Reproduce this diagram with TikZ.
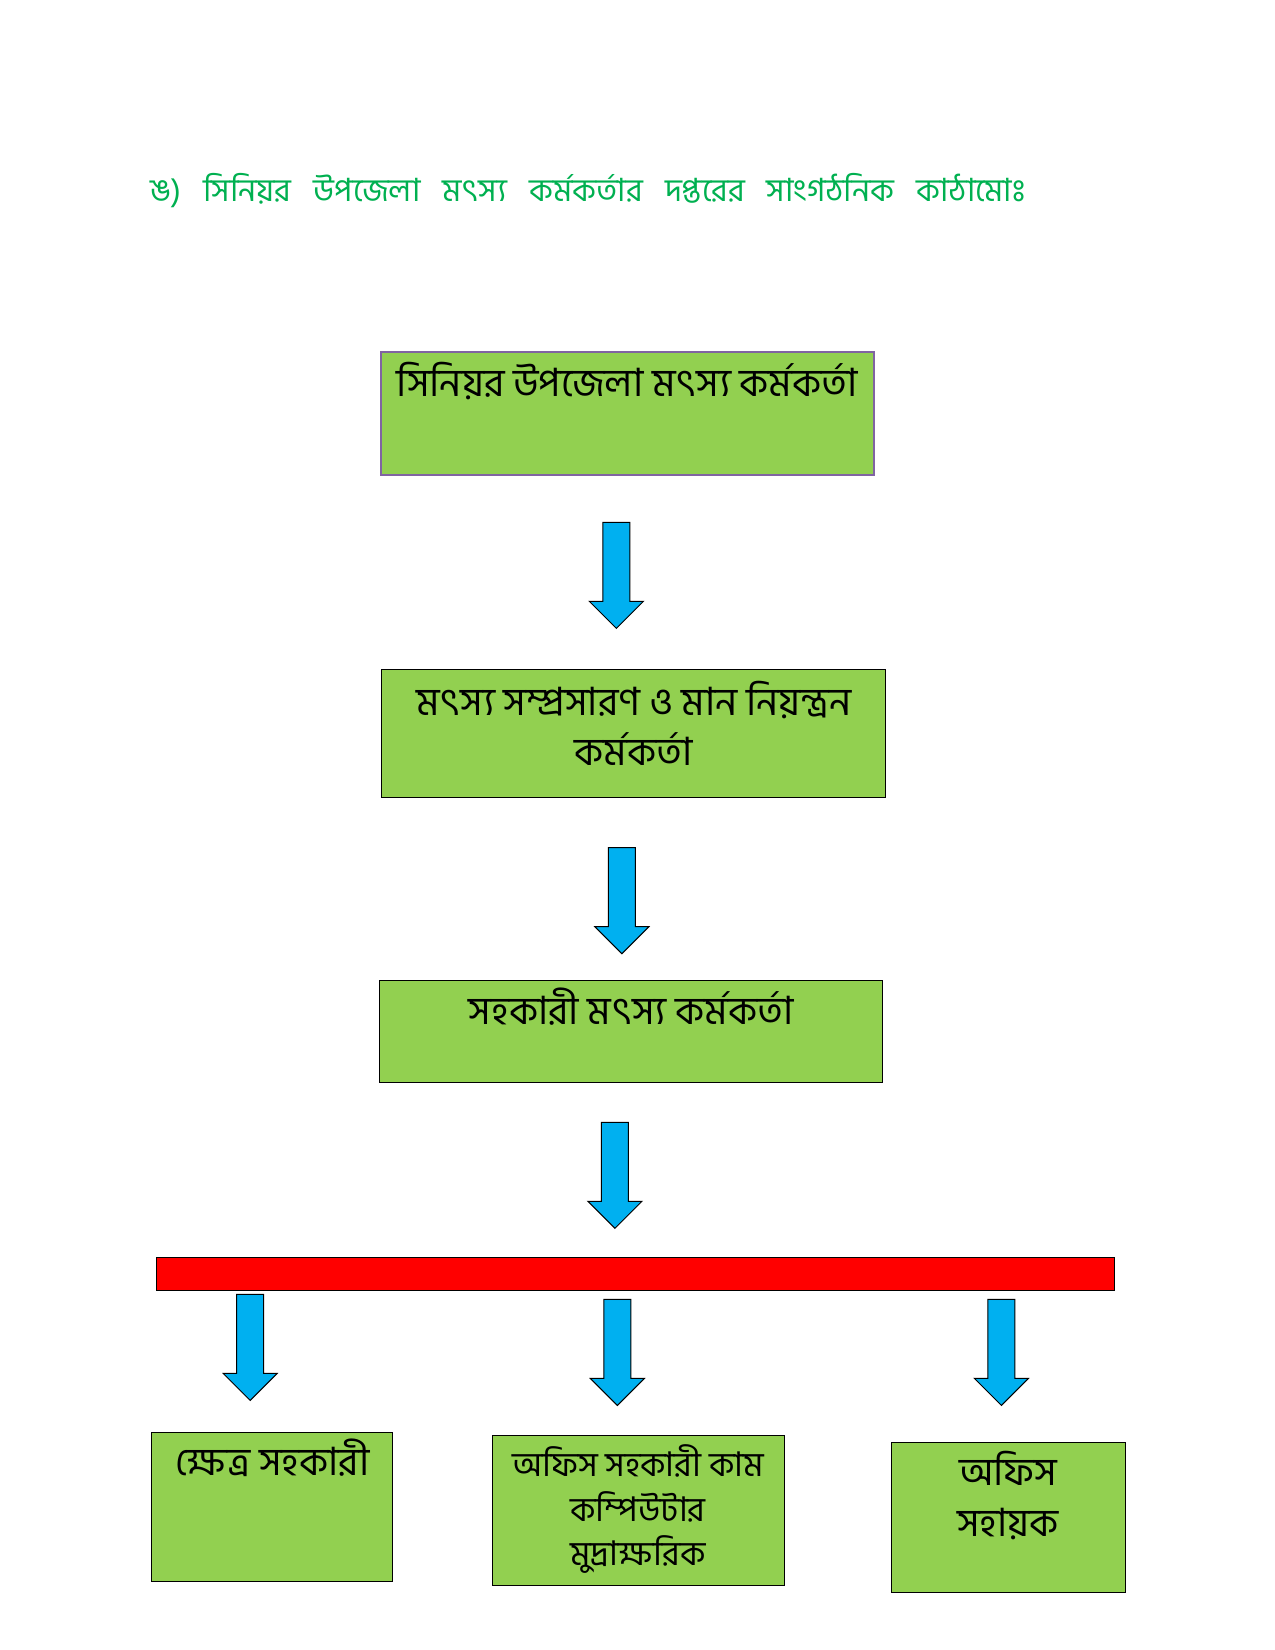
\documentclass[tikz,border=0pt]{standalone}
\usepackage{fontspec}
\newfontfamily\bangla[Script=Bengali]{Hind Siliguri}
\usetikzlibrary{calc,positioning}
\definecolor{color_box_fill}{HTML}{92D050}
\definecolor{color_arrow_fill}{HTML}{00B0F0}
\definecolor{color_bar_fill}{HTML}{FF0000}
\definecolor{color_title}{HTML}{00B050}
\definecolor{color_top_border}{HTML}{8064A2}

\tikzset{
	box/.style={draw=black, line width=1.2, fill=color_box_fill, anchor=north west, inner sep=0},
	boxtext/.style={font=\bangla\fontsize{39}{46}\selectfont, anchor=base, inner sep=0},
	smalltext/.style={boxtext, font=\bangla\fontsize{34}{40}\selectfont},
	arrowblock/.style={draw=black, line width=1, fill=color_arrow_fill, line join=miter},
	downarrow/.pic={
		\draw[arrowblock] (-13.5,0) -- (13.5,0) -- (13.5,79) -- (27,79) -- (0,106) -- (-27,79) -- (-13.5,79) -- cycle;
	}
}

\begin{document}
\begin{tikzpicture}[scale=1,black,x=1pt,y=-1pt]
				\useasboundingbox (0, 0) rectangle (1275, 1650);
				\begin{scope}[scale=0.995]
				% Heading
				\node[font=\bangla\fontsize{32}{38}\selectfont, text=color_title, anchor=base west, inner sep=0] (title) at (151, 203)
					{\makebox[875pt][s]{ঙ) সিনিয়র উপজেলা মৎস্য কর্মকর্তার দপ্তরের সাংগঠনিক কাঠামোঃ}};
		
				% Boxes
				\node[box, draw=color_top_border, line width=1.6, minimum width=493, minimum height=123] (b1) at (382, 353) {};
				\node[box, minimum width=504, minimum height=128] (b2) at (383, 672) {};
				\node[box, minimum width=503, minimum height=102] (b3) at (381, 985) {};
				\node[box, minimum width=241, minimum height=149] (b4) at (152, 1439) {};
				\node[box, minimum width=292, minimum height=150] (b5) at (494, 1442) {};
				\node[box, minimum width=234, minimum height=150] (b6) at (895, 1449) {};
				
				% Box texts
				\node[boxtext] (t1) at ($(b1.north)+(0,46)$) {সিনিয়র উপজেলা মৎস্য কর্মকর্তা};
				\node[boxtext] (t2a) at ($(b2.north)+(0,47)$) {মৎস্য সম্প্রসারণ ও মান নিয়ন্ত্রন};
				\node[boxtext] (t2b) at ($(b2.north)+(0,97)$) {কর্মকর্তা};
				\node[boxtext] (t3) at ($(b3.north)+(0,45)$) {সহকারী মৎস্য কর্মকর্তা};
				\node[boxtext] (t4) at ($(b4.north)+(0,44)$) {ক্ষেত্র সহকারী};
				\node[smalltext] (t5a) at ($(b5.north)+(0,42)$) {অফিস সহকারী কাম};
				\node[smalltext] (t5b) at ($(b5.north)+(0,87)$) {কম্পিউটার};
				\node[smalltext] (t5c) at ($(b5.north)+(0,131)$) {মুদ্রাক্ষরিক};
				\node[boxtext] (t6a) at ($(b6.north)+(0,44)$) {অফিস};
				\node[boxtext] (t6b) at ($(b6.north)+(0,95)$) {সহায়ক};
				
				% Red bar
				\node[draw=black, line width=1, fill=color_bar_fill, anchor=north west, inner sep=0,
					minimum width=958, minimum height=33] (bar) at (157, 1263) {};
				
				% Arrows
				\coordinate (a1) at (619.5, 525);
				\coordinate (a2) at (625, 852);
				\coordinate (a3) at (618, 1128);
				\coordinate (a4) at (251.5, 1301);
				\coordinate (a5) at (620.5, 1306);
				\coordinate (a6) at (1006.5, 1306);
				\foreach \a in {a1,a2,a3,a4,a5,a6}
					\pic at (\a) {downarrow};
				\end{scope}
			\end{tikzpicture}
\end{document}
